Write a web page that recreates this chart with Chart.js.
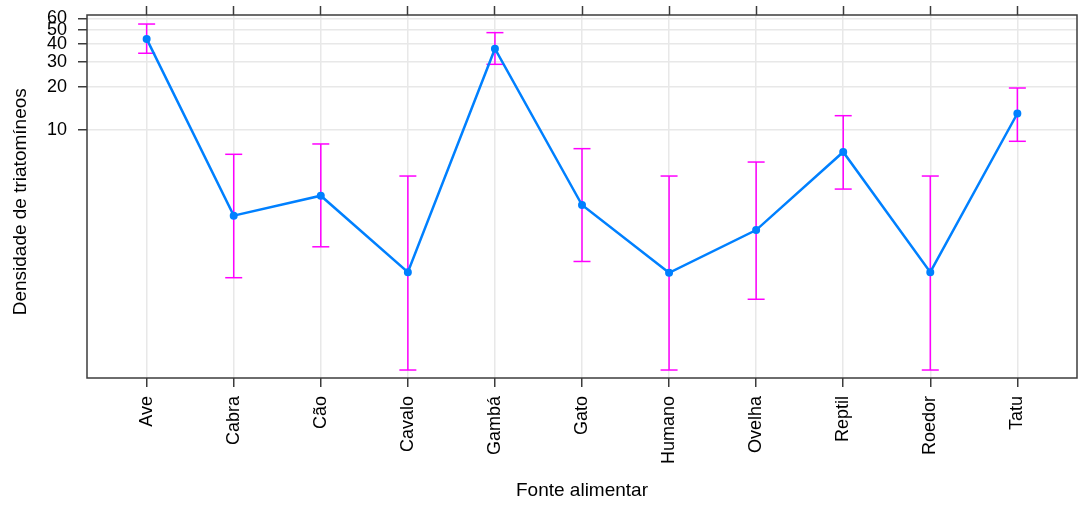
<!DOCTYPE html>
<html lang="pt">
<head>
<meta charset="utf-8">
<title>Densidade de triatomíneos por fonte alimentar</title>
<script src="https://cdn.jsdelivr.net/npm/chart.js@4/dist/chart.umd.min.js"></script>
<style>
  html, body { margin: 0; padding: 0; background: #ffffff; }
  #wrap { width: 1079px; height: 506px; }
</style>
</head>
<body>
<div id="wrap"><canvas id="grafico" width="1079" height="506"></canvas></div>
<script>
// Fontes alimentares (eixo x)
const categorias = ['Ave', 'Cabra', 'Cão', 'Cavalo', 'Gambá', 'Gato', 'Humano', 'Ovelha', 'Reptil', 'Roedor', 'Tatu'];

// Densidade estimada e intervalo de confiança
const densidade      = [43.2, 2.51, 3.46, 1.01, 36.9, 2.98, 1.00, 1.99, 7.00, 1.01, 13.0];
const limiteInferior = [34.3, 0.924, 1.52, 0.209, 28.7, 1.20, 0.209, 0.653, 3.85, 0.209, 8.31];
const limiteSuperior = [54.9, 6.74, 7.96, 4.75, 47.8, 7.38, 4.75, 5.95, 12.55, 4.75, 19.6];

// Marcas do eixo y (escala logarítmica)
const ticksY = [10, 20, 30, 40, 50, 60];

const FONTE = "'Liberation Sans', Arial, sans-serif";
const COR_EIXO = '#3c3c3c';
const COR_GRADE = '#e8e8e8';

const pontos = categorias.map((c, i) => ({ x: i, y: densidade[i] }));

// Cada barra de erro: inferior -> superior, seguida de uma quebra
const barrasErro = [];
categorias.forEach((c, i) => {
  barrasErro.push({ x: i, y: limiteInferior[i] });
  barrasErro.push({ x: i, y: limiteSuperior[i] });
  barrasErro.push({ x: i, y: null });
});

const ticksCategorias = (scale) => {
  scale.ticks = categorias.map((c, i) => ({ value: i }));
};

// Sem folga automática em volta dos rótulos: o painel fica com o tamanho fixo
const semFolga = (s) => {
  s.paddingTop = 0;
  s.paddingBottom = 0;
  s.paddingLeft = 0;
  s.paddingRight = 0;
};

// Moldura do painel
const moldura = {
  id: 'moldura',
  afterDraw(chart) {
    const { ctx, chartArea: a } = chart;
    ctx.save();
    ctx.strokeStyle = COR_EIXO;
    ctx.lineWidth = 1.5;
    ctx.strokeRect(a.left, a.top, a.right - a.left, a.bottom - a.top);
    ctx.restore();
  }
};

new Chart(document.getElementById('grafico'), {
  type: 'scatter',
  data: {
    datasets: [
      {
        label: 'Densidade',
        data: pontos,
        showLine: true,
        borderColor: '#0080ff',
        borderWidth: 2.5,
        pointRadius: 3,
        pointBorderWidth: 2,
        pointBackgroundColor: '#0080ff',
        pointBorderColor: '#0080ff',
        order: 0
      },
      {
        label: 'IC',
        data: barrasErro,
        showLine: true,
        spanGaps: false,
        borderColor: '#ff00ff',
        borderWidth: 1.5,
        pointStyle: 'line',
        pointRadius: 8.5,
        pointBorderWidth: 1.5,
        pointBorderColor: '#ff00ff',
        order: 1
      }
    ]
  },
  options: {
    responsive: false,
    animation: false,
    events: [],
    layout: { autoPadding: false, padding: { left: 0, right: 2, top: 0, bottom: 0 } },
    plugins: { legend: { display: false }, tooltip: { enabled: false } },
    scales: {
      x: {
        type: 'linear',
        position: 'bottom',
        min: -0.685,
        max: 10.685,
        afterBuildTicks: ticksCategorias,
        afterFit: (s) => { s.height = 128; semFolga(s); },
        border: { display: false },
        grid: { color: COR_GRADE, lineWidth: 1.5, tickColor: COR_EIXO, tickLength: 9, tickWidth: 1.5 },
        ticks: {
          autoSkip: false,
          minRotation: 90,
          maxRotation: 90,
          padding: 9,
          color: '#000',
          font: { family: FONTE, size: 18 },
          callback: (v) => categorias[Math.round(v)]
        },
        title: {
          display: true,
          text: 'Fonte alimentar',
          color: '#000',
          font: { family: FONTE, size: 19 },
          padding: { top: 0, bottom: 4 }
        }
      },
      xTopo: {
        type: 'linear',
        position: 'top',
        min: -0.685,
        max: 10.685,
        afterBuildTicks: ticksCategorias,
        afterFit: (s) => { s.height = 15; semFolga(s); },
        border: { display: false },
        grid: { drawOnChartArea: false, tickColor: COR_EIXO, tickLength: 9, tickWidth: 1.5 },
        ticks: { display: false }
      },
      y: {
        type: 'logarithmic',
        position: 'left',
        min: 0.1838,
        max: 63.5,
        afterBuildTicks: (s) => { s.ticks = ticksY.map((v) => ({ value: v })); },
        afterFit: (s) => { s.width = 87; semFolga(s); },
        border: { display: false },
        grid: { color: COR_GRADE, lineWidth: 1.5, tickColor: COR_EIXO, tickLength: 9, tickWidth: 1.5 },
        ticks: {
          padding: 11,
          color: '#000',
          font: { family: FONTE, size: 18 },
          callback: (v) => String(v)
        },
        title: {
          display: true,
          text: 'Densidade de triatomíneos  ',
          color: '#000',
          font: { family: FONTE, size: 19 },
          padding: { top: 9, bottom: 0 }
        }
      }
    }
  },
  plugins: [moldura]
});
</script>
</body>
</html>
